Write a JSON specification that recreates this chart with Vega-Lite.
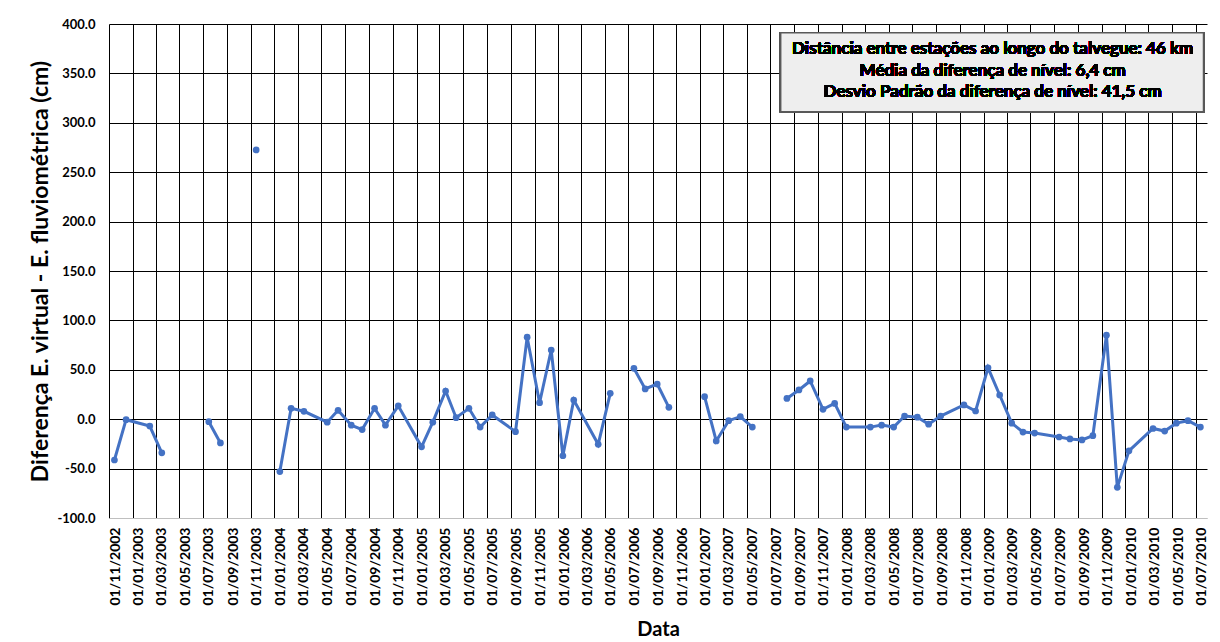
{
  "$schema": "https://vega.github.io/schema/vega-lite/v6.json",
  "autosize": {"type": "none"},
  "padding": {"left": 109, "top": 24, "right": 13, "bottom": 124},
  "width": 1098,
  "height": 494,
  "background": "white",
  "config": {"view": {"stroke": null}},
  "data": {"values": [
    {"date": "2002-11-15", "diff": -41.3},
    {"date": "2002-12-15", "diff": -0.5},
    {"date": "2003-02-14", "diff": -6.9},
    {"date": "2003-03-17", "diff": -34.0},
    {"date": "2003-05-15", "diff": null},
    {"date": "2003-07-16", "diff": -2.5},
    {"date": "2003-08-15", "diff": -24.0},
    {"date": "2003-10-01", "diff": null},
    {"date": "2003-11-15", "diff": 272.5},
    {"date": "2003-12-15", "diff": null},
    {"date": "2004-01-15", "diff": -53.0},
    {"date": "2004-02-13", "diff": 11.0},
    {"date": "2004-03-17", "diff": 8.0},
    {"date": "2004-05-16", "diff": -3.0},
    {"date": "2004-06-13", "diff": 9.0},
    {"date": "2004-07-17", "diff": -6.0},
    {"date": "2004-08-14", "diff": -10.5},
    {"date": "2004-09-15", "diff": 11.0},
    {"date": "2004-10-13", "diff": -6.0},
    {"date": "2004-11-15", "diff": 13.5},
    {"date": "2005-01-14", "diff": -28.0},
    {"date": "2005-02-12", "diff": -3.0},
    {"date": "2005-03-17", "diff": 28.5},
    {"date": "2005-04-13", "diff": 1.5},
    {"date": "2005-05-16", "diff": 11.0},
    {"date": "2005-06-14", "diff": -8.0},
    {"date": "2005-07-15", "diff": 4.3},
    {"date": "2005-09-13", "diff": -12.6},
    {"date": "2005-10-13", "diff": 83.0},
    {"date": "2005-11-14", "diff": 16.7},
    {"date": "2005-12-14", "diff": 70.0},
    {"date": "2006-01-13", "diff": -37.0},
    {"date": "2006-02-10", "diff": 19.4},
    {"date": "2006-04-14", "diff": -25.4},
    {"date": "2006-05-15", "diff": 26.2},
    {"date": "2006-06-15", "diff": null},
    {"date": "2006-07-15", "diff": 51.5},
    {"date": "2006-08-13", "diff": 30.6},
    {"date": "2006-09-13", "diff": 35.6},
    {"date": "2006-10-13", "diff": 12.0},
    {"date": "2006-12-01", "diff": null},
    {"date": "2007-01-13", "diff": 22.8},
    {"date": "2007-02-12", "diff": -22.0},
    {"date": "2007-03-16", "diff": -1.5},
    {"date": "2007-04-15", "diff": 2.6},
    {"date": "2007-05-16", "diff": -8.0},
    {"date": "2007-07-01", "diff": null},
    {"date": "2007-08-13", "diff": 21.0},
    {"date": "2007-09-13", "diff": 29.6},
    {"date": "2007-10-12", "diff": 38.7},
    {"date": "2007-11-14", "diff": 10.0},
    {"date": "2007-12-14", "diff": 16.0},
    {"date": "2008-01-13", "diff": -8.0},
    {"date": "2008-03-15", "diff": -8.0},
    {"date": "2008-04-13", "diff": -6.0},
    {"date": "2008-05-14", "diff": -8.0},
    {"date": "2008-06-11", "diff": 3.2},
    {"date": "2008-07-14", "diff": 2.0},
    {"date": "2008-08-12", "diff": -5.0},
    {"date": "2008-09-12", "diff": 3.2},
    {"date": "2008-11-11", "diff": 14.4},
    {"date": "2008-12-11", "diff": 8.3},
    {"date": "2009-01-12", "diff": 52.0},
    {"date": "2009-02-11", "diff": 24.5},
    {"date": "2009-03-14", "diff": -4.0},
    {"date": "2009-04-12", "diff": -13.0},
    {"date": "2009-05-12", "diff": -14.0},
    {"date": "2009-07-14", "diff": -18.0},
    {"date": "2009-08-11", "diff": -20.0},
    {"date": "2009-09-11", "diff": -21.0},
    {"date": "2009-10-09", "diff": -16.7},
    {"date": "2009-11-13", "diff": 85.0},
    {"date": "2009-12-11", "diff": -69.0},
    {"date": "2010-01-10", "diff": -32.0},
    {"date": "2010-03-13", "diff": -9.4},
    {"date": "2010-04-12", "diff": -12.0},
    {"date": "2010-05-12", "diff": -4.0},
    {"date": "2010-06-11", "diff": -1.5},
    {"date": "2010-07-13", "diff": -8.0}
  ]},
  "encoding": {
    "x": {
      "field": "date", "type": "temporal",
      "scale": {"type": "utc", "nice": false, "domain": [{"year": 2002, "month": 11, "date": 1, "utc": true}, {"year": 2010, "month": 7, "date": 30, "utc": true}]},
      "axis": {
        "title": "Data",
        "tickCount": {"interval": "month", "step": 2},
        "labelExpr": "utcFormat(datum.value, '%d/%m/%Y')",
        "labelAngle": 270,
        "labelAlign": "right",
        "labelBaseline": "middle",
        "labelFont": "Lato", "labelFontWeight": "bold", "labelFontSize": 14, "labelColor": "black",
        "labelPadding": 9, "labelOffset": 6,
        "labelOverlap": false, "labelFlush": false, "labelBound": false,
        "ticks": false,
        "grid": true, "gridColor": "black", "gridWidth": 1, "gridOpacity": 1,
        "domain": true, "domainColor": "#bfbfbf", "domainWidth": 1,
        "titleFont": "Lato", "titleFontSize": 20, "titleFontWeight": "bold", "titleColor": "black",
        "titleY": 117, "titleBaseline": "alphabetic"
      }
    },
    "y": {
      "field": "diff", "type": "quantitative",
      "scale": {"domain": [-100, 400], "nice": false, "zero": false},
      "axis": {
        "title": "Diferença E. virtual - E. fluviométrica (cm)",
        "values": [-100, -50, 0, 50, 100, 150, 200, 250, 300, 350, 400],
        "labelExpr": "replace(format(datum.value, '.1f'), '\u2212', '-')",
        "labelFont": "Lato", "labelFontWeight": "bold", "labelFontSize": 13, "labelColor": "black",
        "labelPadding": 14,
        "ticks": false, "domain": false,
        "grid": true, "gridWidth": 1, "gridOpacity": 1,
        "gridColor": {"condition": {"test": "datum.value === -100", "value": "#bfbfbf"}, "value": "black"},
        "titleFont": "Lato", "titleFontSize": 23, "titleFontWeight": "bold", "titleColor": "black",
        "titleAngle": 270, "titleX": -69, "titleY": 247, "titleAlign": "center", "titleBaseline": "middle"
      }
    }
  },
  "layer": [
    {"mark": {"type": "line", "color": "#4472C4", "strokeWidth": 3}},
    {"mark": {"type": "point", "filled": true, "color": "#4472C4", "size": 45, "opacity": 1}},
    {
      "mark": {"type": "rect", "fill": "#eeeeee", "stroke": "#595959", "strokeWidth": 1.5},
      "encoding": {
        "x": {"datum": {"year": 2007, "month": 7, "date": 28, "utc": true}, "type": "temporal"},
        "x2": {"datum": {"year": 2010, "month": 7, "date": 21, "utc": true}},
        "y": {"datum": 391.2, "type": "quantitative"},
        "y2": {"datum": 311.2}
      }
    },
    {
      "mark": {
        "type": "text", "font": "Lato", "fontWeight": "bold", "fontSize": 17, "lineHeight": 21.5,
        "color": "black", "align": "center", "baseline": "middle",
        "text": ["Distância entre estações ao longo do talvegue: 46 km", "Média da diferença de nível: 6,4 cm", "Desvio Padrão da diferença de nível: 41,5 cm"]
      },
      "encoding": {
        "x": {"datum": {"year": 2009, "month": 1, "date": 24, "utc": true}, "type": "temporal"},
        "y": {"datum": 374.4, "type": "quantitative"}
      }
    }
  ]
}
